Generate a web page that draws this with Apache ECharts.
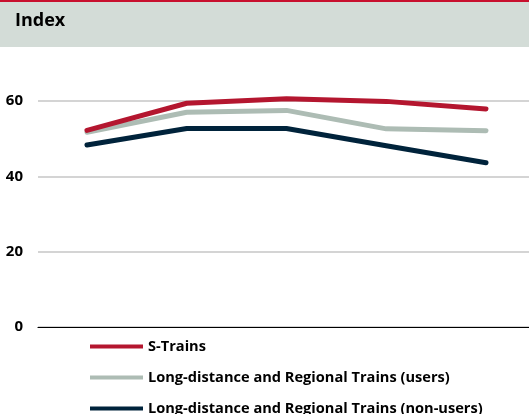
<!DOCTYPE html>
<html>
<head>
<meta charset="utf-8">
<script src="https://cdn.jsdelivr.net/npm/echarts@6/dist/echarts.min.js"></script>
<style>
  html, body { margin: 0; padding: 0; background: #ffffff; }
  #chart { width: 529px; height: 414px; }
</style>
</head>
<body>
<div id="chart"></div>
<script>
// Survey waves along the horizontal axis (not labelled in the chart)
const waves = [1, 2, 3, 4, 5];

const seriesNames = [
  'S-Trains',
  'Long-distance and Regional Trains (users)',
  'Long-distance and Regional Trains (non-users)'
];

const sTrains = [52.2, 59.4, 60.6, 59.9, 57.9];
const regionalUsers = [51.7, 57.0, 57.5, 52.6, 52.1];
const regionalNonUsers = [48.3, 52.7, 52.7, 48.1, 43.6];

const yTicks = [0, 20, 40, 60];

const colors = ['#b4162f', '#adbcb4', '#00233b'];
const FONT = '"Open Sans", "DejaVu Sans", sans-serif';

const chart = echarts.init(document.getElementById('chart'), null, { renderer: 'canvas' });

function pairs(vals) {
  return waves.map((w, i) => [w, vals[i]]);
}

const valueSets = [sTrains, regionalUsers, regionalNonUsers];

chart.setOption({
  animation: false,
  backgroundColor: '#ffffff',
  graphic: [
    { type: 'rect', left: 0, top: 0, shape: { width: 529, height: 47 }, style: { fill: '#d3dcd7' }, z: -1 },
    { type: 'rect', left: 0, top: 0, shape: { width: 529, height: 2 }, style: { fill: '#c8102e' } },
    { type: 'text', left: 15, top: 12, style: { text: 'Index', font: 'bold 18px ' + FONT, fill: '#000000' } }
  ],
  grid: { left: 38, right: 0, top: 101, bottom: 87 },
  xAxis: {
    type: 'value',
    min: 0.509,
    max: 5.431,
    axisLine: { show: true, onZero: true, lineStyle: { color: '#000000', width: 1.2 } },
    axisTick: { show: false },
    axisLabel: { show: false },
    splitLine: { show: false }
  },
  yAxis: {
    type: 'value',
    min: yTicks[0],
    max: yTicks[yTicks.length - 1],
    interval: 20,
    axisLine: { show: false },
    axisTick: { show: false },
    axisLabel: {
      margin: 15,
      color: '#000000',
      fontFamily: FONT,
      fontWeight: 'bold',
      fontSize: 15
    },
    splitLine: {
      lineStyle: { color: '#c6c6c6', width: 1.5 }
    }
  },
  legend: {
    orient: 'vertical',
    left: 90,
    top: 339,
    padding: 0,
    height: 120,
    itemWidth: 53,
    itemHeight: 14,
    itemGap: 16,
    icon: 'path://M0,5 L53,5 L53,9 L0,9 Z',
    textStyle: { fontFamily: FONT, fontWeight: 'bold', fontSize: 14.6, color: '#000000' },
    data: seriesNames
  },
  series: seriesNames.map((name, i) => ({
    name: name,
    type: 'line',
    data: pairs(valueSets[i]),
    symbol: 'none',
    clip: false,
    z: 10 - i,
    lineStyle: { color: colors[i], width: 5, cap: 'round', join: 'round' },
    itemStyle: { color: colors[i] }
  }))
});
</script>
</body>
</html>
